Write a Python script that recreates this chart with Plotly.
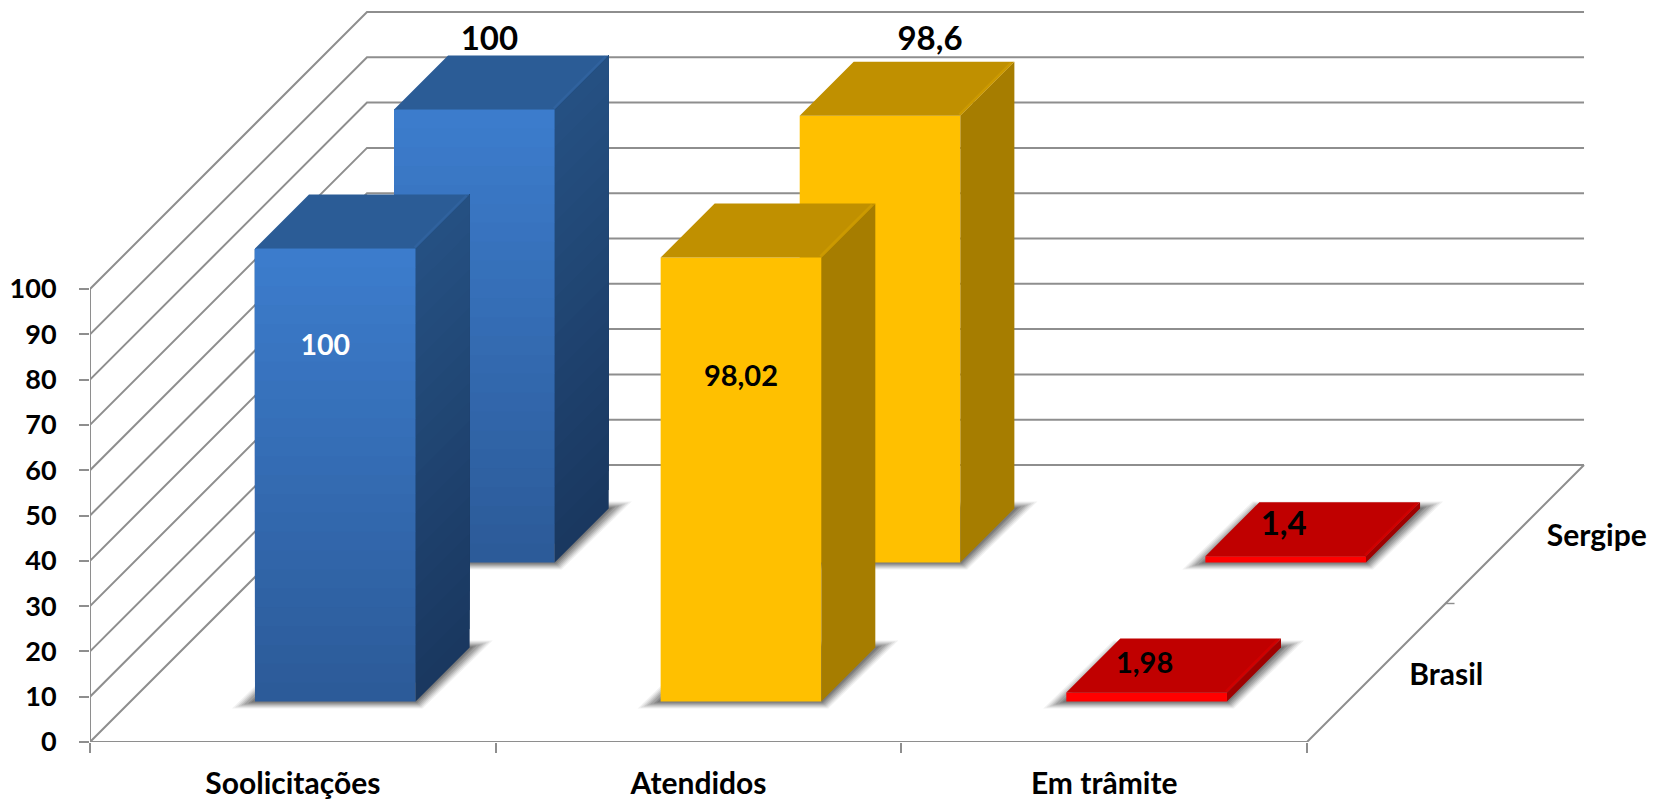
import plotly.graph_objects as go

# ---------- data ----------
categories = ["Soolicitações", "Atendidos", "Em trâmite"]
series_names = ["Brasil", "Sergipe"]
brasil = [100, 98.02, 1.98]
sergipe = [100, 98.6, 1.4]
y_ticks = [0, 10, 20, 30, 40, 50, 60, 70, 80, 90, 100]

# ---------- geometry of the oblique projection ----------
W, H = 1659, 800
LEFT, BOTTOM_PX = 90, 742
CAT_PX = 405.67
VAL_PX = 4.53
DEPTH_PX = 277
BAR_W = 0.396
BAR_D = 0.195
CAT_C = 0.505
Z_FRONT = [0.146, 0.648]

def px_x(c, z):
    return c + z * DEPTH_PX / CAT_PX

def px_y(v, z):
    return v + z * DEPTH_PX / VAL_PX

def project(c, z, v, dx=0, dy=0):
    return px_x(c, z) + dx / CAT_PX, px_y(v, z) - dy / VAL_PX

fig = go.Figure()

def poly(points, color):
    xs = [p[0] for p in points] + [points[0][0]]
    ys = [p[1] for p in points] + [points[0][1]]
    fig.add_trace(go.Scatter(x=xs, y=ys, mode="lines", fill="toself", fillcolor=color,
                             line=dict(width=0, color=color), hoverinfo="skip", showlegend=False))

def line(points, color, width=2):
    fig.add_trace(go.Scatter(x=[p[0] for p in points], y=[p[1] for p in points], mode="lines",
                             line=dict(width=width, color=color), hoverinfo="skip",
                             showlegend=False, cliponaxis=False))

def mix(a, b, t):
    return "rgb(%d,%d,%d)" % tuple(round(a[i] + (b[i] - a[i]) * t) for i in range(3))

GRID = "#8e8e8e"

# walls: gridlines
for v in y_ticks:
    line([project(0, 0, v), project(0, 1, v), project(3, 1, v)], GRID)
# floor edges and left edge
line([project(0, 0, 0), project(3, 0, 0), project(3, 1, 0)], GRID)
line([project(0, 0, 0), project(0, 0, 100)], GRID)
# depth axis tick
p = project(3, 0.5, 0)
line([p, project(3, 0.5, 0, dx=9)], GRID, 1.4)

STYLE = [
    dict(front0=(0x2C, 0x5B, 0x99), front1=(0x3C, 0x7C, 0xCC), side0=(0x1A, 0x38, 0x60), side1=(0x25, 0x50, 0x82),
         top="#2B5C96", bevel="#30629E"),
    dict(front0=(0xFF, 0xC0, 0x00), front1=(0xFF, 0xC0, 0x00), side0=(0xA6, 0x7D, 0x00), side1=(0xA6, 0x7D, 0x00),
         top="#C09000", bevel="#CC9A00"),
    dict(front0=(0xFF, 0x00, 0x00), front1=(0xFF, 0x00, 0x00), side0=(0xA0, 0x00, 0x00), side1=(0xA0, 0x00, 0x00),
         top="#C00000", bevel="#D00000"),
]
STRIPS = 24
SHADOW = [(23, 7, .07), (20, 6, .09), (17, 5, .11), (14, 4, .13), (11, 3, .15), (7, 2, .18), (4, 1, .20)]

def bar(c, z, v, st):
    x0, x1 = c + CAT_C - BAR_W / 2, c + CAT_C + BAR_W / 2
    z1 = z + BAR_D
    # soft shadow, widest layer first
    for ox, oy, a in SHADOW:
        poly([project(x0, z, 0, dx=-ox, dy=oy),
              project(x1, z, 0, dx=ox * 0.3, dy=oy),
              project(x1, z1, 0, dx=ox, dy=-oy),
              project(x0, z1, 0, dx=-ox * 0.3, dy=-oy)], "rgba(50,50,50,%g)" % a)
    flat = st["front0"] == st["front1"]
    n = 1 if flat else STRIPS
    for k in range(n):
        b = v * k / n
        t = k / max(n - 1, 1)
        poly([project(x0, z, b), project(x1, z, b), project(x1, z, v), project(x0, z, v)],
             mix(st["front0"], st["front1"], t))
        poly([project(x1, z, b), project(x1, z1, b), project(x1, z1, v), project(x1, z, v)],
             mix(st["side0"], st["side1"], t))
    poly([project(x0, z, v), project(x1, z, v), project(x1, z1, v), project(x0, z1, v)], st["top"])
    line([project(x1 - 0.005, z + 0.004, v), project(x1 - 0.005, z1 - 0.004, v)], st["bevel"], 2.5)

# back row first so the front row overlaps it
for z, values in [(Z_FRONT[1], sergipe), (Z_FRONT[0], brasil)]:
    for c, v in enumerate(values):
        bar(c, z, v, STYLE[c])

# data labels
FONT = "Lato, 'Open Sans', sans-serif"
# per-label pixel nudges relative to the front-top centre of each bar
SHIFTS = {
    (0, 0): (-10, 99, 28.5, "white"), (1, 0): (0, 121, 29, "black"), (2, 0): (-2, -27, 29, "black"),
    (0, 1): (15, -68, 33, "black"), (1, 1): (50, -74, 33, "black"), (2, 1): (-2, -29, 33, "black"),
}
for s, values in enumerate([brasil, sergipe]):
    for c, v in enumerate(values):
        dx, dy, size, col = SHIFTS[(c, s)]
        x, y = project(c + CAT_C, Z_FRONT[s], v, dx=dx, dy=dy)
        fig.add_trace(go.Scatter(x=[x], y=[y], mode="text", text=[str(v).replace(".", ",")],
                                 textposition="middle center", cliponaxis=False,
                                 textfont=dict(family=FONT, size=size, color=col, weight="bold"),
                                 hoverinfo="skip", showlegend=False))

# depth axis labels
for s, (name, dx, dy) in enumerate(zip(series_names, [70, 82], [5, 4])):
    x, y = project(3, 0.25 + 0.5 * s, 0, dx=dx, dy=dy)
    fig.add_trace(go.Scatter(x=[x], y=[y], mode="text", text=[name], textposition="middle center",
                             cliponaxis=False,
                             textfont=dict(family=FONT, size=30, color="black", weight="bold"),
                             hoverinfo="skip", showlegend=False))

fig.update_layout(
    width=W, height=H, showlegend=False,
    paper_bgcolor="white", plot_bgcolor="white",
    margin=dict(l=LEFT, r=0, t=0, b=H - BOTTOM_PX, pad=0),
    xaxis=dict(range=[0, (W - LEFT) / CAT_PX], tickvals=[0.5, 1.5, 2.5], ticktext=categories,
               ticks="", showgrid=False, zeroline=False, showline=False,
               tickfont=dict(family=FONT, size=30, color="black", weight="bold"),
               ticklabelstandoff=21, tickangle=0,
               minor=dict(tickvals=[0, 1, 2, 3], ticks="outside", ticklen=10, tickwidth=1.6,
                          tickcolor=GRID, showgrid=False)),
    yaxis=dict(range=[0, BOTTOM_PX / VAL_PX], tickvals=y_ticks, ticks="outside", ticklen=10,
               tickwidth=1.6, tickcolor=GRID, showgrid=False, zeroline=False, showline=False,
               tickfont=dict(family=FONT, size=27, color="black", weight="bold"),
               ticklabelstandoff=17),
)

fig.write_html("out.html", config=dict(displayModeBar=False),
               post_script="document.body.style.margin='0';")
